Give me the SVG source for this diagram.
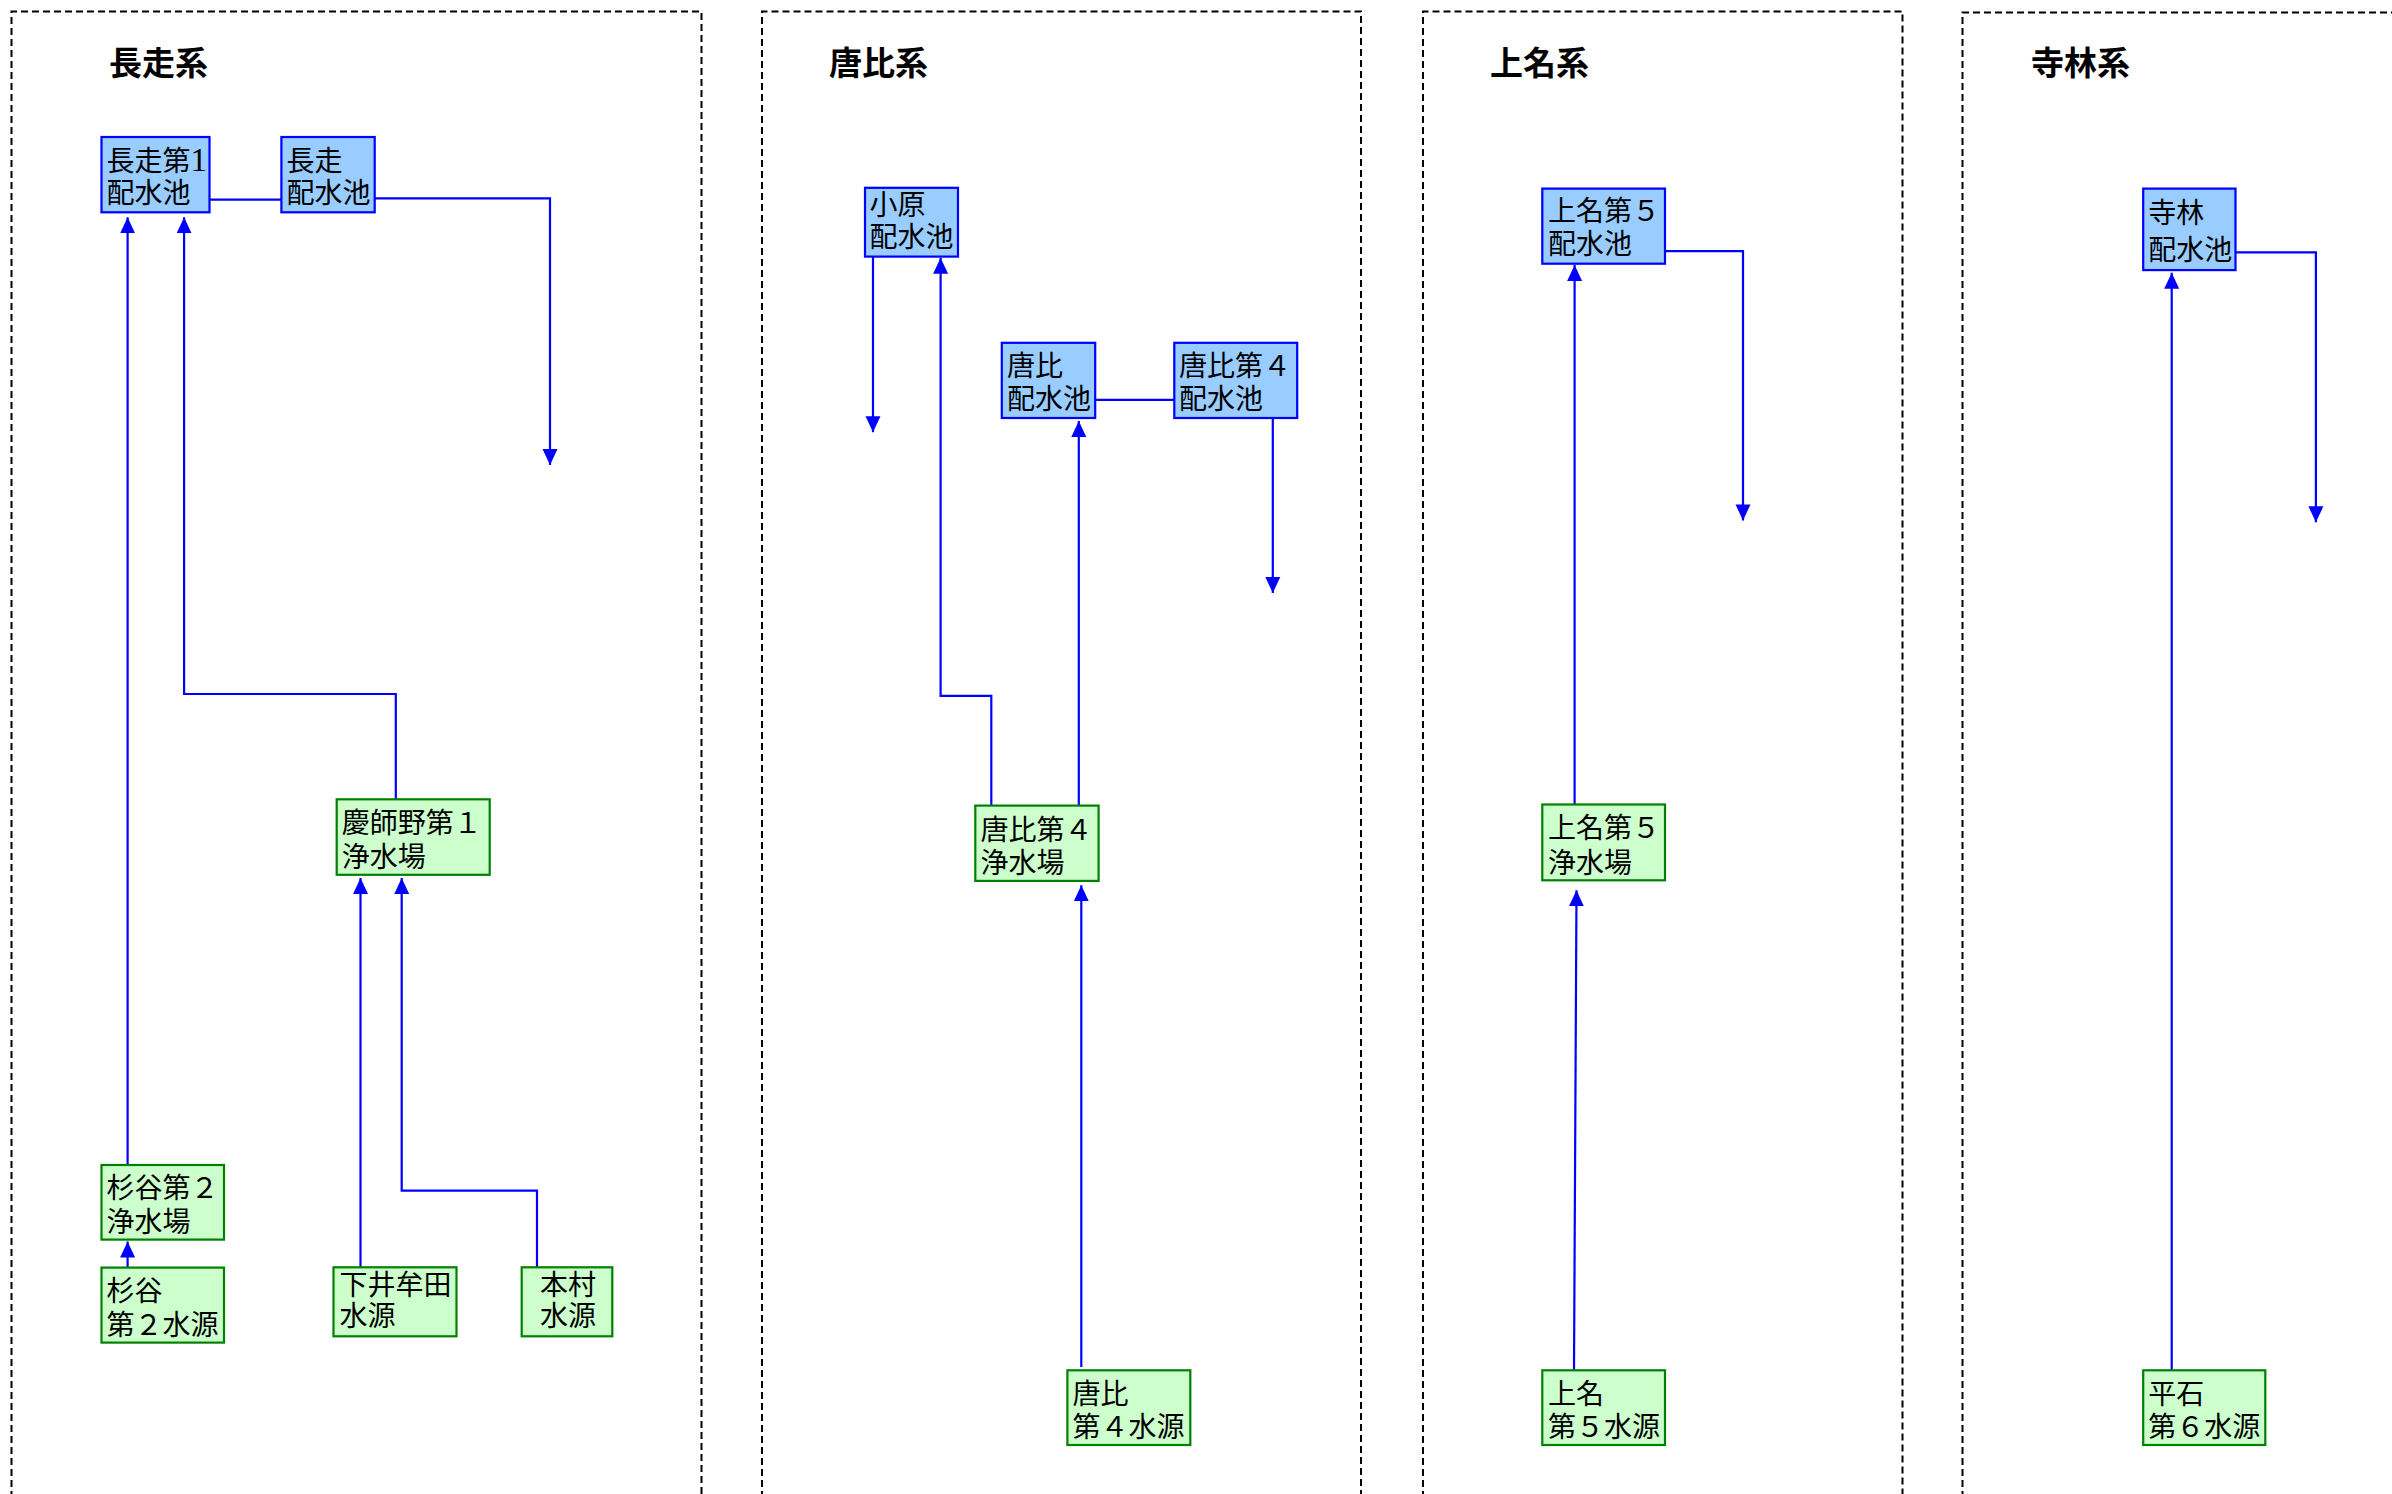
<svg xmlns="http://www.w3.org/2000/svg" width="2392" height="1494" viewBox="0 0 2392 1494">
<style>
.frame{fill:none;stroke:#000;stroke-width:2;stroke-dasharray:7,4}
.title{font-family:"Noto Sans CJK JP","Noto Sans CJK SC",sans-serif;font-size:33px;font-weight:bold;fill:#000}
.pool rect{fill:#99CCFF;stroke:#0000FF;stroke-width:2.2}
.plant rect{fill:#CCFFCC;stroke:#008000;stroke-width:2.2}
.node text{font-family:"Liberation Serif","Noto Sans CJK JP",serif;font-size:28px;fill:#000}
.conn path{fill:none;stroke:#0000FF;stroke-width:2.2}
.conn path.arr{marker-end:url(#ah)}
</style>
<defs>
<marker id="ah" markerUnits="userSpaceOnUse" markerWidth="17" markerHeight="16" viewBox="0 0 17 16" refX="16" refY="8" orient="auto">
<path d="M0,0.5 L16,8 L0,15.5 Z" fill="#0000FF"/>
</marker>
</defs>
<rect width="2392" height="1494" fill="#fff"/>

<g id="frames">
<path class="frame" d="M11.5,1520 V11.5 H701.5 V1520"/>
<path class="frame" d="M762,1520 V11.5 H1361 V1520"/>
<path class="frame" d="M1423,1520 V11.5 H1902.5 V1520"/>
<path class="frame" d="M1962.5,1520 V12.5 H2420"/>
</g>

<g id="titles">
<text class="title" x="109" y="74.5">長走系</text>
<text class="title" x="829" y="74.5">唐比系</text>
<text class="title" x="1490" y="74.5">上名系</text>
<text class="title" x="2031" y="74.5">寺林系</text>
</g>

<g id="connectors" class="conn">
<path d="M209.4,199.7 H281.4"/>
<path class="arr" d="M374.7,198.3 H550 V465"/>
<path class="arr" d="M127.6,1165 V217.3"/>
<path class="arr" d="M395.8,799.3 V694 H184.1 V217.3"/>
<path class="arr" d="M360.5,1267.3 V878"/>
<path class="arr" d="M537,1267.3 V1190.7 H401.7 V878"/>
<path class="arr" d="M127.6,1267.6 V1241.5"/>
<path class="arr" d="M873,252 V432.2"/>
<path class="arr" d="M991.3,805.6 V695.8 H940.6 V257.8"/>
<path class="arr" d="M1078.8,805.6 V421"/>
<path d="M1095.2,399.8 H1174.3"/>
<path class="arr" d="M1272.8,418 V593"/>
<path class="arr" d="M1081.3,1367 V885.3"/>
<path class="arr" d="M1665,251.2 H1743 V520.4"/>
<path class="arr" d="M1574.6,804.5 V265"/>
<path class="arr" d="M1574,1370.3 L1576.5,890.3"/>
<path class="arr" d="M2235.5,252.3 H2315.9 V522.3"/>
<path class="arr" d="M2171.7,1370.3 V272.8"/>
</g>

<g id="n_nagaso1" class="node pool"><rect x="101.5" y="137" width="108" height="75.3"/><text x="106.5" y="171.3">長走第<tspan font-size="33">1</tspan></text><text x="106.5" y="203">配水池</text></g>
<g id="n_nagaso" class="node pool"><rect x="281.4" y="137" width="93.3" height="75.3"/><text x="286.5" y="171.3">長走</text><text x="286.5" y="203">配水池</text></g>
<g id="n_keishino1" class="node plant"><rect x="336.7" y="799.3" width="153" height="75.5"/><text x="341.7" y="833">慶師野第１</text><text x="341.7" y="867">浄水場</text></g>
<g id="n_sugitani2_plant" class="node plant"><rect x="101.5" y="1165" width="122.5" height="74.6"/><text x="106.5" y="1198">杉谷第２</text><text x="106.5" y="1232">浄水場</text></g>
<g id="n_sugitani2_src" class="node plant"><rect x="101.5" y="1267.6" width="122.5" height="75"/><text x="106.5" y="1300.5">杉谷</text><text x="106.5" y="1335">第２水源</text></g>
<g id="n_shimoimuta" class="node plant"><rect x="333.5" y="1267.3" width="123" height="69"/><text x="339.5" y="1294.7">下井牟田</text><text x="339.5" y="1326">水源</text></g>
<g id="n_honmura" class="node plant"><rect x="521.7" y="1267.3" width="90.6" height="69"/><text x="540" y="1294.7">本村</text><text x="540" y="1326">水源</text></g>

<g id="n_obaru" class="node pool"><rect x="865" y="187.8" width="93" height="68.8"/><text x="869.6" y="214.7">小原</text><text x="869.6" y="247">配水池</text></g>
<g id="n_karako" class="node pool"><rect x="1001.8" y="342.8" width="93.4" height="75.2"/><text x="1007" y="375.6">唐比</text><text x="1007" y="409">配水池</text></g>
<g id="n_karako4_pool" class="node pool"><rect x="1174.3" y="342.8" width="122.9" height="75.2"/><text x="1179" y="375.6">唐比第４</text><text x="1179" y="409">配水池</text></g>
<g id="n_karako4_plant" class="node plant"><rect x="975.3" y="805.6" width="123.3" height="75.3"/><text x="980.5" y="839.8">唐比第４</text><text x="980.5" y="873">浄水場</text></g>
<g id="n_karako4_src" class="node plant"><rect x="1067.4" y="1370.3" width="122.9" height="74.7"/><text x="1072.5" y="1404">唐比</text><text x="1072.5" y="1437.4">第４水源</text></g>

<g id="n_kamina5_pool" class="node pool"><rect x="1542.3" y="188.6" width="122.7" height="75.1"/><text x="1548" y="221.4">上名第５</text><text x="1548" y="254">配水池</text></g>
<g id="n_kamina5_plant" class="node plant"><rect x="1542.3" y="804.5" width="122.7" height="75.8"/><text x="1548" y="838">上名第５</text><text x="1548" y="872.5">浄水場</text></g>
<g id="n_kamina5_src" class="node plant"><rect x="1542.3" y="1370.3" width="122.7" height="74.7"/><text x="1548" y="1404">上名</text><text x="1548" y="1437.4">第５水源</text></g>

<g id="n_terabayashi" class="node pool"><rect x="2143.2" y="188.6" width="92.3" height="81.5"/><text x="2148.3" y="222.5">寺林</text><text x="2148.3" y="259.5">配水池</text></g>
<g id="n_hiraishi6" class="node plant"><rect x="2143.2" y="1370.3" width="122.1" height="74.7"/><text x="2148.3" y="1404">平石</text><text x="2148.3" y="1437.4">第６水源</text></g>
</svg>
